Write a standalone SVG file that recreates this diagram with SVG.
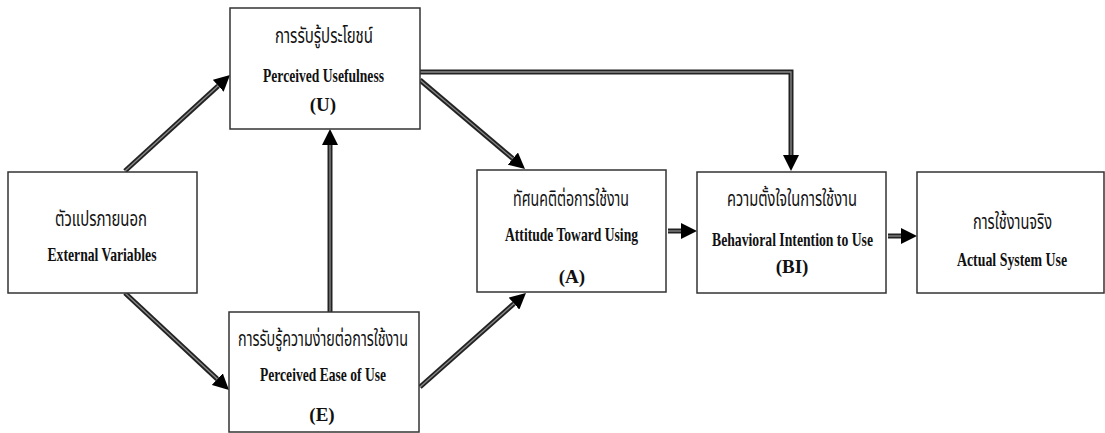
<svg xmlns="http://www.w3.org/2000/svg" width="1105" height="433" viewBox="0 0 1105 433">
<defs>
<style>
.box{fill:#fff;stroke:#333;stroke-width:1.5}
.th{font-family:"Noto Sans Thai","Noto Sans","DejaVu Sans",sans-serif;font-size:21px;fill:#111;text-anchor:middle}
.en{font-family:"Liberation Serif","Times New Roman",serif;font-size:19px;font-weight:bold;fill:#111;text-anchor:middle}
.outer{fill:none;stroke:#222;stroke-width:5}
.inner{fill:none;stroke:#8a8a8a;stroke-width:1.3}
</style>
<marker id="ah" viewBox="0 0 16 16" refX="0" refY="8" markerWidth="16" markerHeight="16" markerUnits="userSpaceOnUse" orient="auto">
<path d="M0,0 L16,8 L0,16 z" fill="#000"/>
</marker>
</defs>
<rect width="1105" height="433" fill="#fff"/>
<g id="connectors">
<path class="outer" d="M125,171 L218.2,85.8" marker-end="url(#ah)"/>
<path class="inner" d="M125,171 L218.2,85.8"/>
<path class="outer" d="M125,293 L217.3,379.1" marker-end="url(#ah)"/>
<path class="inner" d="M125,293 L217.3,379.1"/>
<path class="outer" d="M330,312 L330,145" marker-end="url(#ah)"/>
<path class="inner" d="M330,312 L330,145"/>
<path class="outer" d="M420,80 L512.8,158.6" marker-end="url(#ah)"/>
<path class="inner" d="M420,80 L512.8,158.6"/>
<path class="outer" d="M420,72 H791 V155" marker-end="url(#ah)"/>
<path class="inner" d="M420,72 H791 V155"/>
<path class="outer" d="M420,387 L514,303.6" marker-end="url(#ah)"/>
<path class="inner" d="M420,387 L514,303.6"/>
<path class="outer" d="M668,231 H681" marker-end="url(#ah)"/>
<path class="inner" d="M668,231 H681"/>
<path class="outer" d="M888,236 H901" marker-end="url(#ah)"/>
<path class="inner" d="M888,236 H901"/>
</g>
<g id="external">
<rect class="box" x="8" y="172" width="189" height="121"/>
<text class="th" x="101" y="226" textLength="92" lengthAdjust="spacingAndGlyphs">ตัวแปรภายนอก</text>
<text class="en" x="102" y="261" textLength="109" lengthAdjust="spacingAndGlyphs">External Variables</text>
</g>
<g id="usefulness">
<rect class="box" x="230" y="8" width="190" height="121"/>
<text class="th" x="324" y="43" textLength="98" lengthAdjust="spacingAndGlyphs">การรับรู้ประโยชน์</text>
<text class="en" x="323.5" y="82" textLength="121" lengthAdjust="spacingAndGlyphs">Perceived Usefulness</text>
<text class="en" x="323" y="111">(U)</text>
</g>
<g id="ease">
<rect class="box" x="229" y="312" width="190" height="120"/>
<text class="th" x="323" y="346" textLength="170" lengthAdjust="spacingAndGlyphs">การรับรู้ความง่ายต่อการใช้งาน</text>
<text class="en" x="323" y="381" textLength="126" lengthAdjust="spacingAndGlyphs">Perceived Ease of Use</text>
<text class="en" x="322" y="421">(E)</text>
</g>
<g id="attitude">
<rect class="box" x="477" y="170" width="189" height="122"/>
<text class="th" x="571" y="206" textLength="116" lengthAdjust="spacingAndGlyphs">ทัศนคติต่อการใช้งาน</text>
<text class="en" x="571.5" y="241" textLength="133" lengthAdjust="spacingAndGlyphs">Attitude Toward Using</text>
<text class="en" x="572" y="283">(A)</text>
</g>
<g id="intention">
<rect class="box" x="697" y="172" width="189" height="121"/>
<text class="th" x="792" y="206" textLength="130" lengthAdjust="spacingAndGlyphs">ความตั้งใจในการใช้งาน</text>
<text class="en" x="792.5" y="246" textLength="161" lengthAdjust="spacingAndGlyphs">Behavioral Intention to Use</text>
<text class="en" x="792" y="273">(BI)</text>
</g>
<g id="actual">
<rect class="box" x="917" y="172" width="187" height="121"/>
<text class="th" x="1012.5" y="229" textLength="79" lengthAdjust="spacingAndGlyphs">การใช้งานจริง</text>
<text class="en" transform="translate(1012,266) scale(0.73,1)" x="0" y="0">Actual System Use</text>
</g>
</svg>
